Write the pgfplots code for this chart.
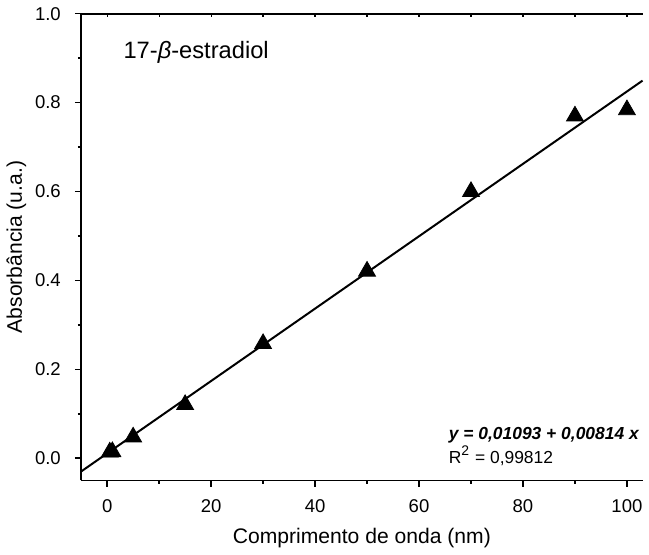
\documentclass[border=0pt]{standalone}
\usepackage{pgfplots}
\pgfplotsset{compat=1.18}
\usepackage{fontspec}
\setmainfont{Liberation Sans}

\begin{document}
\begin{tikzpicture}
\begin{axis}[
  scale only axis,
  width=282pt, height=234.5pt,
  xmin=-5, xmax=103, ymin=-0.05, ymax=1.0,
  axis x line=box, axis y line*=left,
  axis line style={line width=0.9pt},
  tick align=outside, tick pos=left,
  xtick={0,20,...,100}, minor xtick={10,30,...,90},
  ytick={0,0.2,...,1.0}, minor ytick={0.1,0.3,...,0.9},
  major tick length=3.2pt, minor tick length=1.6pt,
  tick style={line width=0.8pt, black},
  /pgf/number format/assume math mode=true,
  /pgf/number format/fixed, /pgf/number format/fixed zerofill,
  /pgf/number format/precision=1,
  xticklabel style={/pgf/number format/precision=0, font=\fontsize{9.3}{11}\selectfont, yshift=-3pt},
  yticklabel style={font=\fontsize{9.3}{11}\selectfont, xshift=-3.5pt},
  xlabel={Comprimento de onda (nm)},
  ylabel={Absorbância (u.a.)},
  label style={font=\fontsize{10.6}{12}\selectfont},
  xlabel style={yshift=-1pt},
  ylabel style={yshift=-2.5pt},
  clip=false,
]
% linear fit
\addplot[black, line width=1pt] coordinates {(-5,-0.02977) (103,0.84935)};
% measured points
\addplot[only marks, mark=triangle*, mark size=4.9pt, black, mark options={yshift=-1.2pt}] coordinates {
  (0.5,0.019) (1,0.020) (5,0.053) (15,0.126) (30,0.263)
  (50,0.426) (70,0.605) (90,0.775) (100,0.789)
};
\node[anchor=base west, font=\fontsize{11.9}{14}\selectfont] at (axis cs:1.8,0.899) {17-\textit{β}-estradiol};
\node[anchor=base west, font=\fontsize{8.75}{10}\selectfont\bfseries\itshape] at (axis cs:64.4,0.042) {y = 0,01093 + 0,00814 x};
\node[anchor=base west, font=\fontsize{8.75}{10}\selectfont] at (axis cs:64.4,-0.012) {R\textsuperscript{\scriptsize 2} = 0,99812};
\end{axis}
% small inward ticks along the top
\begin{axis}[
  scale only axis,
  width=282pt, height=234.5pt,
  xmin=-5, xmax=103, ymin=-0.05, ymax=1.0,
  axis x line*=top, axis y line=none,
  axis line style={draw=none},
  xtick={0,10,...,100}, xticklabels={},
  tick align=inside, major tick length=1.5pt,
  tick style={line width=0.6pt, black},
]
\addplot[draw=none] coordinates {(0,0)};
\end{axis}
\end{tikzpicture}
\end{document}
